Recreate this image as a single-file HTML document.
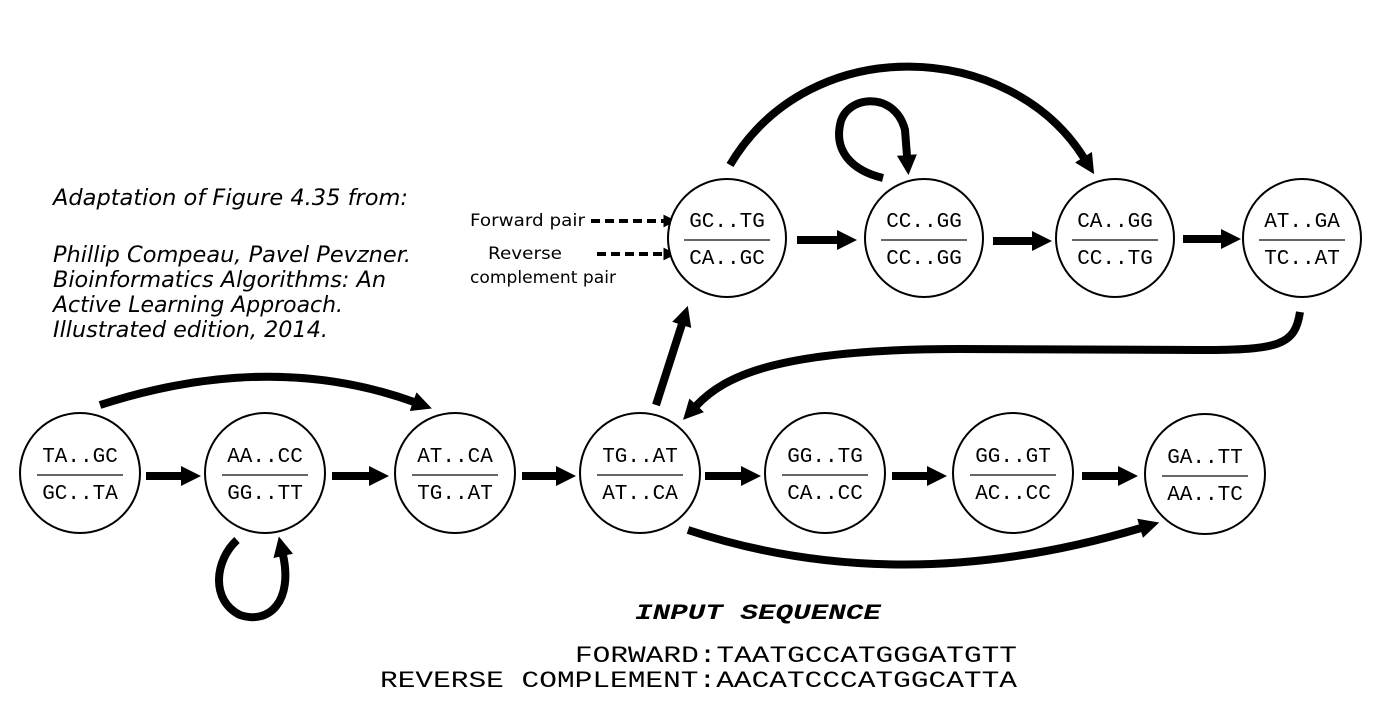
<!DOCTYPE html>
<html><head><meta charset="utf-8"><style>html,body{margin:0;padding:0;background:#fff}</style></head><body>
<svg width="1399" height="722" viewBox="0 0 1399 722" xmlns="http://www.w3.org/2000/svg">
<defs>
<marker id="ah" viewBox="0 0 10 10" refX="0.5" refY="5" markerWidth="20" markerHeight="20" orient="auto" markerUnits="userSpaceOnUse"><path d="M0,0 L10,5 L0,10 z" fill="#000"/></marker>
<marker id="ahs" viewBox="0 0 10 10" refX="0.5" refY="5" markerWidth="13" markerHeight="13" orient="auto" markerUnits="userSpaceOnUse"><path d="M0,0 L10,5 L0,10 z" fill="#000"/></marker>
</defs>
<g font-family="'DejaVu Sans', sans-serif" font-style="italic" font-size="22" fill="#000" lengthAdjust="spacingAndGlyphs">
<text x="53" y="205" textLength="355" lengthAdjust="spacingAndGlyphs">Adaptation of Figure 4.35 from:</text>
<text x="53" y="262" textLength="358" lengthAdjust="spacingAndGlyphs">Phillip Compeau, Pavel Pevzner.</text>
<text x="53" y="287" textLength="333" lengthAdjust="spacingAndGlyphs">Bioinformatics Algorithms: An</text>
<text x="53" y="312" textLength="290" lengthAdjust="spacingAndGlyphs">Active Learning Approach.</text>
<text x="53" y="337" textLength="275" lengthAdjust="spacingAndGlyphs">Illustrated edition, 2014.</text>
</g>
<g font-family="'DejaVu Sans', sans-serif" font-size="17" fill="#000">
<text x="470" y="226" textLength="115" lengthAdjust="spacingAndGlyphs">Forward pair</text>
<text x="488" y="259" textLength="74" lengthAdjust="spacingAndGlyphs">Reverse</text>
<text x="470" y="283" textLength="146" lengthAdjust="spacingAndGlyphs">complement pair</text>
</g>
<g stroke="#000" stroke-width="4" stroke-dasharray="9,5" fill="none">
<line x1="591" y1="221" x2="664" y2="221" marker-end="url(#ahs)"/>
<line x1="597" y1="254" x2="664" y2="254" marker-end="url(#ahs)"/>
</g>
<g stroke="#000" stroke-width="2" fill="#fff">
<circle cx="80" cy="473" r="60"/><circle cx="265" cy="473" r="60"/><circle cx="455" cy="473" r="60"/><circle cx="640" cy="473" r="60"/><circle cx="825" cy="473" r="60"/><circle cx="1013" cy="473" r="60"/><circle cx="1205" cy="474" r="60"/>
<circle cx="727" cy="238" r="59"/><circle cx="924" cy="238" r="59"/><circle cx="1115" cy="238" r="59"/><circle cx="1302" cy="238" r="59"/>
</g>
<g stroke="#666" stroke-width="2">
<line x1="37" y1="475" x2="123" y2="475"/><line x1="222" y1="475" x2="308" y2="475"/><line x1="412" y1="475" x2="498" y2="475"/><line x1="597" y1="475" x2="683" y2="475"/><line x1="782" y1="475" x2="868" y2="475"/><line x1="970" y1="475" x2="1056" y2="475"/><line x1="1162" y1="476" x2="1248" y2="476"/>
<line x1="684" y1="240" x2="770" y2="240"/><line x1="881" y1="240" x2="967" y2="240"/><line x1="1072" y1="240" x2="1158" y2="240"/><line x1="1259" y1="240" x2="1345" y2="240"/>
</g>
<g font-family="'Liberation Mono', 'Courier New', 'Nimbus Mono PS', 'FreeMono', monospace" font-size="21" fill="#000" text-anchor="middle">
<text x="80" y="462">TA..GC</text><text x="80" y="499">GC..TA</text>
<text x="265" y="462">AA..CC</text><text x="265" y="499">GG..TT</text>
<text x="455" y="462">AT..CA</text><text x="455" y="499">TG..AT</text>
<text x="640" y="462">TG..AT</text><text x="640" y="499">AT..CA</text>
<text x="825" y="462">GG..TG</text><text x="825" y="499">CA..CC</text>
<text x="1013" y="462">GG..GT</text><text x="1013" y="499">AC..CC</text>
<text x="1205" y="463">GA..TT</text><text x="1205" y="500">AA..TC</text>
<text x="727" y="227">GC..TG</text><text x="727" y="264">CA..GC</text>
<text x="924" y="227">CC..GG</text><text x="924" y="264">CC..GG</text>
<text x="1115" y="227">CA..GG</text><text x="1115" y="264">CC..TG</text>
<text x="1302" y="227">AT..GA</text><text x="1302" y="264">TC..AT</text>
</g>
<g stroke="#000" stroke-width="8" fill="none" stroke-linecap="butt">
<line x1="146" y1="476" x2="182" y2="476" marker-end="url(#ah)"/>
<line x1="332" y1="476" x2="370" y2="476" marker-end="url(#ah)"/>
<line x1="522" y1="476" x2="557" y2="476" marker-end="url(#ah)"/>
<line x1="705" y1="476" x2="742" y2="476" marker-end="url(#ah)"/>
<line x1="892" y1="476" x2="928" y2="476" marker-end="url(#ah)"/>
<line x1="1082" y1="476" x2="1119" y2="476" marker-end="url(#ah)"/>
<line x1="797" y1="240" x2="838" y2="240" marker-end="url(#ah)"/>
<line x1="993" y1="241" x2="1033" y2="241" marker-end="url(#ah)"/>
<line x1="1183" y1="239" x2="1222" y2="239" marker-end="url(#ah)"/>
<line x1="656" y1="405" x2="682" y2="324" marker-end="url(#ah)"/>
<path d="M100,405 Q270,350 414,402" marker-end="url(#ah)"/>
<path d="M688,530 Q900,600 1141,528" marker-end="url(#ah)"/>
<path d="M237,540 C215,560 210,600 240,615 C270,625 293,600 283,555" marker-end="url(#ah)"/>
<path d="M730,165 C810,30 1010,40 1084,158" marker-end="url(#ah)"/>
<path d="M883,178 C850,170 835,150 840,125 C845,95 895,90 905,130 L907,156" marker-end="url(#ah)"/>
<path d="M1300,312 C1295,345 1280,350 1200,350 L960,349 C780,349 725,375 696,406" marker-end="url(#ah)"/>
</g>
<text x="635" y="619" font-family="'Liberation Mono', 'Courier New', monospace" font-weight="bold" font-style="italic" font-size="22" textLength="246" lengthAdjust="spacingAndGlyphs">INPUT SEQUENCE</text>
<g font-family="'Liberation Mono', 'Courier New', monospace" font-size="23" fill="#000">
<text x="575" y="662" textLength="442" lengthAdjust="spacingAndGlyphs">FORWARD:TAATGCCATGGGATGTT</text>
<text x="380" y="687" textLength="637" lengthAdjust="spacingAndGlyphs">REVERSE COMPLEMENT:AACATCCCATGGCATTA</text>
</g>
</svg>
</body></html>
